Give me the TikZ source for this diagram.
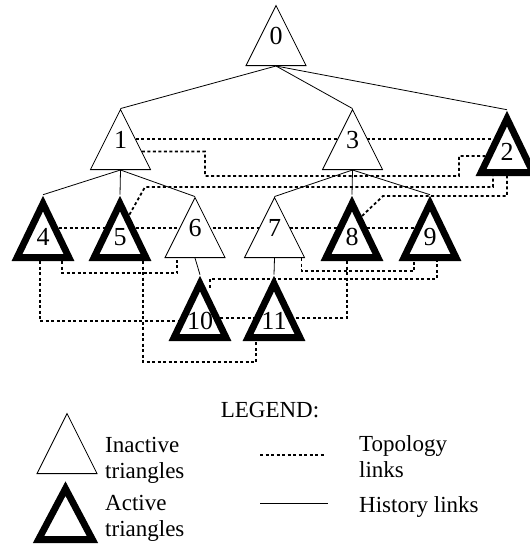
\documentclass[tikz,border=0pt]{standalone}
\usepackage{fontspec}
\setmainfont{Liberation Serif}
\usetikzlibrary{shapes.geometric}
\usetikzlibrary{calc,backgrounds}
\tikzset{
  tri/.style={isosceles triangle, isosceles triangle stretches, shape border rotate=90,
    draw, fill=white, inner sep=0pt, anchor=lower side, text height=0pt, text depth=0pt,
    font=\fontsize{26}{26}\selectfont},
  inactive/.style={tri, line width=0.8pt, text depth=10pt, minimum width=60pt, minimum height=60pt},
  active/.style={tri, line width=6.8pt, line join=miter, minimum width=52pt, minimum height=54pt},
  hist/.style={line width=0.8pt},
  topo/.style={line width=1.8pt, dash pattern=on 3pt off 2.5pt},
  legtext/.style={anchor=west, inner sep=0pt, align=left, font=\fontsize{23}{26}\selectfont},
}

\begin{document}
\begin{tikzpicture}[x=1pt,y=-1pt]
\useasboundingbox (0,0) rectangle (530,549);
\node[inactive] (t0) at (276,66) {0};
\node[inactive] (t1) at (120.5,170) {1};
\node[inactive] (t3) at (352.5,170) {3};
\node[active] (t2) at (507,176) {2};
\node[active] (t4) at (43,261) {4};
\node[active] (t5) at (120,261) {5};
\node[inactive] (t6) at (195,258) {6};
\node[inactive] (t7) at (274.5,258) {7};
\node[active] (t8) at (352,261) {8};
\node[active] (t9) at (430,261) {9};
\node[active] (t10) at (200,341) {10};
\node[active] (t11) at (274,341) {11};
% history links
\draw[hist] (t0.lower side) -- (t1.apex);
\draw[hist] (t0.lower side) -- (t3.apex);
\draw[hist] (t0.lower side) -- (t2.apex);
\draw[hist] (t1.lower side) -- (t4.apex);
\draw[hist] (t1.lower side) -- (t5.apex);
\draw[hist] (t1.lower side) -- (t6.apex);
\draw[hist] (t3.lower side) -- (t7.apex);
\draw[hist] (t3.lower side) -- (t8.apex);
\draw[hist] (t3.lower side) -- (t9.apex);
\draw[hist] (t6.lower side) -- (t10.apex);
\draw[hist] (t7.lower side) -- (t11.apex);
% topology links
\begin{scope}[on background layer]
\draw[topo] (t1.right side) -- (t2.left side |- t1.right side);
\draw[topo] ($(t1.apex)!0.7!(t1.right corner)$) -| (205,176) -| (459,156) -- ($(t2.apex)!0.7!(t2.left corner)$);
\draw[topo] ($(t5.apex)!0.3!(t5.right corner)$) -- (145,187) -| ([xshift=-14pt]t2.lower side);
\draw[topo] ($(t8.apex)!0.32!(t8.right corner)$) -- (383,196) -| (t2.lower side);
\draw[topo] (t4.right side) -- (t9.left side |- t4.right side);
\draw[topo] ($(t10.apex)!0.65!(t10.right corner)$) -- ($(t11.apex)!0.65!(t11.left corner)$);
\draw[topo] ([xshift=19pt]t4.lower side) -- ++(0,12) -| ([xshift=-18pt]t6.lower side);
\draw[topo] ([xshift=-3pt]t4.lower side) |- ($(t10.apex)!0.7!(t10.left corner)$);
\draw[topo] ([xshift=23pt]t5.lower side) -- ++(0,101) -| ([xshift=-18pt]t11.lower side);
\draw[topo] ([xshift=10pt,yshift=-13pt]t10.apex) -- ([xshift=10pt,yshift=-4pt]t10.apex) -| ([xshift=7pt]t9.lower side);
\draw[topo] ([xshift=27pt]t7.lower side) -- ++(0,13) -| ([xshift=-16pt]t9.lower side);
\draw[topo] ([xshift=-5pt]t8.lower side) |- ($(t11.apex)!0.65!(t11.right corner)$);
\end{scope}
% legend
\node[font=\fontsize{23}{26}\selectfont, anchor=base, inner sep=0pt] (legend) at (270,417) {LEGEND:};
\node[inactive] (inact) at (67,474) {};
\node[active, minimum width=54pt, minimum height=51pt] (act) at (65.5,543) {};
\node[legtext] (inacttext) at (105,460) {Inactive\\triangles};
\node[legtext] (acttext) at (105,518) {Active\\triangles};
\node[legtext] (topotext) at (359,457) {Topology\\links};
\node[legtext] (histtext) at (359,507) {History links};
\draw[topo] (260,455) -- (325,455);
\draw[hist] (260,503) -- (328,503);
\end{tikzpicture}
\end{document}
